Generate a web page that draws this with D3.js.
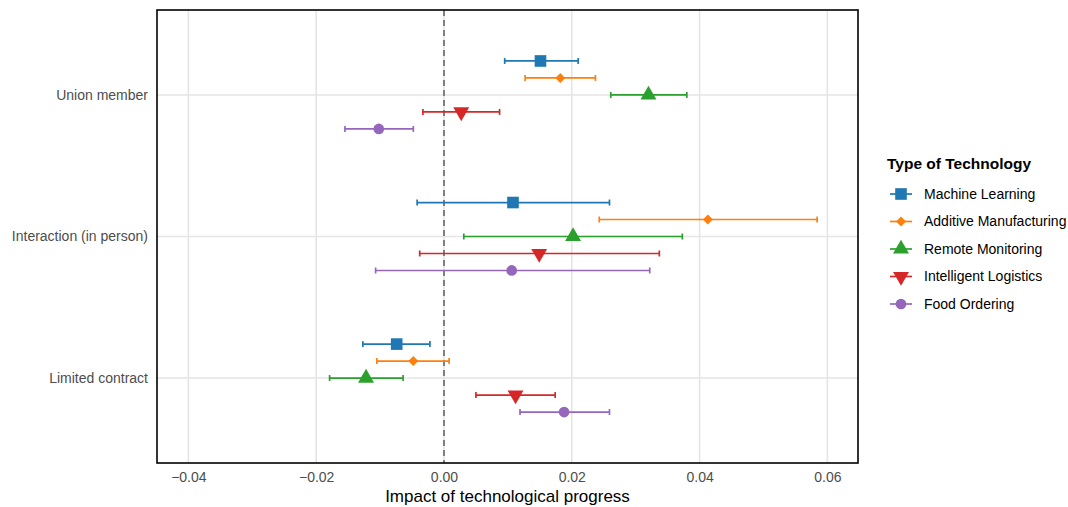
<!DOCTYPE html>
<html>
<head>
<meta charset="utf-8">
<script src="https://cdn.jsdelivr.net/npm/d3@7"></script>
<style>
  html, body { margin: 0; padding: 0; background: #fff; }
  svg { display: block; font-family: "Liberation Sans", Arial, sans-serif; }
</style>
</head>
<body>
<svg id="chart" width="1068" height="507"></svg>
<script>
// Outcome categories (top to bottom)
const categories = ["Union member", "Interaction (in person)", "Limited contract"];

// Technology types, in legend order
const technologies = ["Machine Learning", "Additive Manufacturing", "Remote Monitoring", "Intelligent Logistics", "Food Ordering"];
const colors = ["#1f77b4", "#ff7f0e", "#2ca02c", "#d62728", "#9467bd"];
const shapes = ["square", "diamond", "triangle", "triangleDown", "circle"];

// Point estimates, one array per technology, ordered as categories
const mlEstimate = [0.0151, 0.0108, -0.0074];
const amEstimate = [0.0182, 0.0413, -0.0048];
const rmEstimate = [0.0320, 0.0202, -0.0122];
const ilEstimate = [0.0027, 0.0149, 0.0112];
const foEstimate = [-0.0102, 0.0106, 0.0188];

// Lower confidence bounds
const mlLower = [0.0095, -0.0042, -0.0127];
const amLower = [0.0127, 0.0243, -0.0105];
const rmLower = [0.0261, 0.0031, -0.0179];
const ilLower = [-0.0033, -0.0038, 0.0050];
const foLower = [-0.0155, -0.0107, 0.0119];

// Upper confidence bounds
const mlUpper = [0.0210, 0.0259, -0.0022];
const amUpper = [0.0237, 0.0584, 0.0008];
const rmUpper = [0.0380, 0.0373, -0.0064];
const ilUpper = [0.0087, 0.0337, 0.0174];
const foUpper = [-0.0048, 0.0322, 0.0259];

// Axis ticks
const xTicks = [-0.04, -0.02, 0.00, 0.02, 0.04, 0.06];
const xTickLabels = ["\u22120.04", "\u22120.02", "0.00", "0.02", "0.04", "0.06"];

const estimates = [mlEstimate, amEstimate, rmEstimate, ilEstimate, foEstimate];
const lowers = [mlLower, amLower, rmLower, ilLower, foLower];
const uppers = [mlUpper, amUpper, rmUpper, ilUpper, foUpper];

const rows = [];
technologies.forEach((tech, t) => {
  categories.forEach((cat, c) => {
    rows.push({ tech, t, cat, est: estimates[t][c], lo: lowers[t][c], hi: uppers[t][c] });
  });
});

const svg = d3.select("#chart");
const panel = { left: 157, right: 858, top: 10, bottom: 463 };

const x = d3.scaleLinear()
  .domain([-0.04491, 0.06479])
  .range([panel.left, panel.right]);

// Discrete positions for categories, then dodge the technologies inside
const y = d3.scalePoint()
  .domain(categories)
  .range([panel.top, panel.bottom])
  .padding(0.6);

const step = y.step();
const dodge = d3.scalePoint()
  .domain(technologies)
  .range([-0.24 * step, 0.24 * step]);

const g = svg.append("g");

// Gridlines
g.append("g").selectAll("line")
  .data(xTicks)
  .join("line")
  .attr("x1", d => x(d)).attr("x2", d => x(d))
  .attr("y1", panel.top).attr("y2", panel.bottom)
  .attr("stroke", "#e5e5e5").attr("stroke-width", 1.6);

g.append("g").selectAll("line")
  .data(categories)
  .join("line")
  .attr("x1", panel.left).attr("x2", panel.right)
  .attr("y1", d => y(d)).attr("y2", d => y(d))
  .attr("stroke", "#e5e5e5").attr("stroke-width", 1.6);

// Zero reference line
g.append("line")
  .attr("x1", x(0)).attr("x2", x(0))
  .attr("y1", panel.top).attr("y2", panel.bottom)
  .attr("stroke", "#666").attr("stroke-width", 1.6)
  .attr("stroke-dasharray", "6,4");

// Marker shapes
const symbolFor = {
  square: d3.symbol().type(d3.symbolSquare).size(135),
  diamond: d3.symbol().type(d3.symbolSquare).size(50),
  triangle: d3.symbol().type(d3.symbolTriangle).size(110),
  triangleDown: d3.symbol().type(d3.symbolTriangle).size(110),
  circle: d3.symbol().type(d3.symbolCircle).size(90)
};
function markerPath(shape) { return symbolFor[shape](); }
function markerTransform(shape, cx, cy) {
  if (shape === "triangleDown") return `translate(${cx},${cy}) rotate(180)`;
  if (shape === "diamond") return `translate(${cx},${cy}) rotate(45)`;
  return `translate(${cx},${cy})`;
}

// Error bars and points
const capH = 3;
const pts = g.append("g").selectAll("g.pt")
  .data(rows)
  .join("g")
  .attr("class", "pt");

pts.each(function(d) {
  const sel = d3.select(this);
  const cy = y(d.cat) + dodge(d.tech);
  const col = colors[d.t];
  sel.append("line")
    .attr("x1", x(d.lo)).attr("x2", x(d.hi))
    .attr("y1", cy).attr("y2", cy)
    .attr("stroke", col).attr("stroke-width", 1.7);
  [d.lo, d.hi].forEach(v => {
    sel.append("line")
      .attr("x1", x(v)).attr("x2", x(v))
      .attr("y1", cy - capH).attr("y2", cy + capH)
      .attr("stroke", col).attr("stroke-width", 1.7);
  });
  sel.append("path")
    .attr("d", markerPath(shapes[d.t]))
    .attr("transform", markerTransform(shapes[d.t], x(d.est), cy))
    .attr("fill", col);
});

// Panel border
g.append("rect")
  .attr("x", panel.left).attr("y", panel.top)
  .attr("width", panel.right - panel.left).attr("height", panel.bottom - panel.top)
  .attr("fill", "none").attr("stroke", "#000").attr("stroke-width", 1.6);

// X axis
const xAxis = d3.axisBottom(x)
  .tickValues(xTicks)
  .tickFormat((d, i) => xTickLabels[i])
  .tickSize(0)
  .tickPadding(9);
const xa = svg.append("g")
  .attr("transform", `translate(0,${panel.bottom})`)
  .call(xAxis);
xa.select(".domain").remove();
xa.selectAll("text")
  .attr("fill", "#4d4d4d")
  .style("font-size", "14px")
  .attr("dy", "0.71em");

// Y axis
const yAxis = d3.axisLeft(y).tickSize(0).tickPadding(9);
const ya = svg.append("g")
  .attr("transform", `translate(${panel.left},0)`)
  .call(yAxis);
ya.select(".domain").remove();
ya.selectAll("text")
  .attr("fill", "#4d4d4d")
  .style("font-size", "14px");

// Axis title
svg.append("text")
  .attr("x", (panel.left + panel.right) / 2)
  .attr("y", 502)
  .attr("text-anchor", "middle")
  .style("font-size", "17px")
  .attr("fill", "#000")
  .text("Impact of technological progress");

// Legend
const legend = svg.append("g");
legend.append("text")
  .attr("x", 887).attr("y", 169)
  .style("font-size", "15.5px")
  .style("font-weight", "bold")
  .attr("fill", "#000")
  .text("Type of Technology");

const legendY = d3.scalePoint()
  .domain(technologies)
  .range([194, 304]);

const items = legend.selectAll("g.item")
  .data(technologies)
  .join("g")
  .attr("class", "item")
  .attr("transform", d => `translate(0,${legendY(d)})`);

items.append("line")
  .attr("x1", 890).attr("x2", 912)
  .attr("y1", 0).attr("y2", 0)
  .attr("stroke", (d, i) => colors[i]).attr("stroke-width", 1.7);
items.append("path")
  .attr("d", (d, i) => markerPath(shapes[i]))
  .attr("transform", (d, i) => markerTransform(shapes[i], 901, 0))
  .attr("fill", (d, i) => colors[i]);
items.append("text")
  .attr("x", 924).attr("y", 0)
  .attr("dy", "0.35em")
  .style("font-size", "14px")
  .attr("fill", "#000")
  .text(d => d);
</script>
</body>
</html>
